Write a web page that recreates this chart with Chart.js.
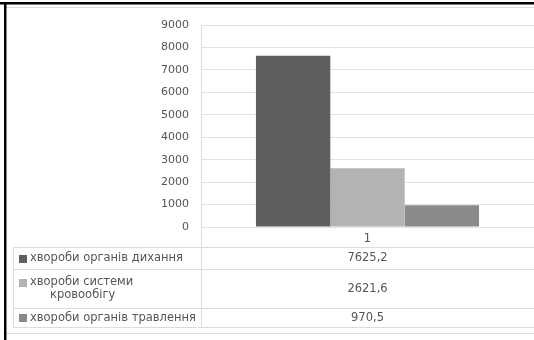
<!DOCTYPE html>
<html>
<head>
<meta charset="utf-8">
<script src="https://cdn.jsdelivr.net/npm/chart.js@4"></script>
<style>
  html, body { margin: 0; padding: 0; background: #fff; }
  #wrap { width: 534px; height: 340px; position: relative; }
</style>
</head>
<body>
<div id="wrap"><canvas id="c" width="534" height="340"></canvas></div>
<script>
// Category (one group) and the three disease groups
const categories = ['1'];
const seriesLabels = [
  ['хвороби органів дихання'],
  ['хвороби системи', 'кровообігу'],
  ['хвороби органів травлення']
];
const respiratory = [7625.2];
const circulatory = [2621.6];
const digestive = [970.5];
const seriesValues = [respiratory, circulatory, digestive];
const seriesColors = ['#5f5f5f', '#b3b3b3', '#8a8a8a'];

// Value axis
const yMin = 0;
const yMax = 9000;
const yStep = 1000;

const FONT = 'DejaVu Sans';
const TEXT = '#555555';
const LINE = '#dcdcdc';

const fmt = v => v.toFixed(1).replace('.', ',');

// Data table under the plot plus the outer frame
const dataTable = {
  id: 'dataTable',
  afterDraw(chart) {
    const ctx = chart.ctx;
    const area = chart.chartArea;
    const xs = chart.scales.x;
    const W = chart.width;
    const tableLeft = 13;
    const rows = [247, 269, 308, 327];
    ctx.save();
    ctx.strokeStyle = LINE;
    ctx.lineWidth = 1;
    ctx.beginPath();
    rows.forEach(y => { ctx.moveTo(tableLeft, y + 0.5); ctx.lineTo(W, y + 0.5); });
    ctx.moveTo(tableLeft + 0.5, rows[0]); ctx.lineTo(tableLeft + 0.5, rows[3] + 0.5);
    ctx.moveTo(Math.round(area.left) + 0.5, area.top); ctx.lineTo(Math.round(area.left) + 0.5, rows[3] + 0.5);
    ctx.stroke();

    // chart frame lines
    ctx.beginPath();
    ctx.moveTo(6, 333.5); ctx.lineTo(W, 333.5);
    ctx.moveTo(6, 7.5); ctx.lineTo(W, 7.5);
    ctx.stroke();

    ctx.font = '11.5px "' + FONT + '"';
    ctx.textBaseline = 'middle';
    const cx = xs.getPixelForValue(0);
    seriesLabels.forEach((lines, i) => {
      const top = rows[i], bottom = rows[i + 1];
      const mid = (top + bottom) / 2 + 0.5;
      const lh = 13;
      const firstY = mid - (lines.length - 1) * lh / 2;
      ctx.fillStyle = seriesColors[i];
      ctx.fillRect(19, Math.round(firstY) - 4, 8, 8);
      ctx.fillStyle = TEXT;
      ctx.textAlign = 'left';
      lines.forEach((t, k) => ctx.fillText(t, k === 0 ? 30 : 50, firstY + k * lh));
      ctx.textAlign = 'center';
      ctx.fillText(fmt(seriesValues[i][0]), cx, mid);
    });

    // outer black frame (top and left)
    ctx.fillStyle = '#000';
    ctx.fillRect(0, 2, W, 2.5);
    ctx.fillRect(4, 2, 2.5, chart.height - 2);
    ctx.restore();
  }
};

new Chart(document.getElementById('c'), {
  type: 'bar',
  data: {
    labels: categories,
    datasets: seriesLabels.map((l, i) => ({
      label: l.join(' '),
      data: seriesValues[i],
      backgroundColor: seriesColors[i],
      borderWidth: 0,
      barPercentage: 1,
      categoryPercentage: 0.67
    }))
  },
  options: {
    responsive: false,
    animation: false,
    devicePixelRatio: 1,
    layout: { padding: { top: 25, right: 0, bottom: 91, left: 0 } },
    plugins: { legend: { display: false }, tooltip: { enabled: false } },
    scales: {
      x: {
        grid: { display: false, drawTicks: false },
        border: { display: false },
        ticks: { color: TEXT, font: { family: FONT, size: 11.5 }, padding: 5 },
        afterFit: s => { s.height = 22; }
      },
      y: {
        min: yMin,
        max: yMax,
        grid: { color: '#e2e2e2', lineWidth: 1, drawTicks: false },
        border: { display: false },
        ticks: {
          stepSize: yStep,
          autoSkip: false,
          color: TEXT,
          padding: 12,
          font: { family: FONT, size: 11 },
          callback: v => String(v)
        },
        afterFit: s => { s.width = 201; }
      }
    }
  },
  plugins: [dataTable]
});
</script>
</body>
</html>
